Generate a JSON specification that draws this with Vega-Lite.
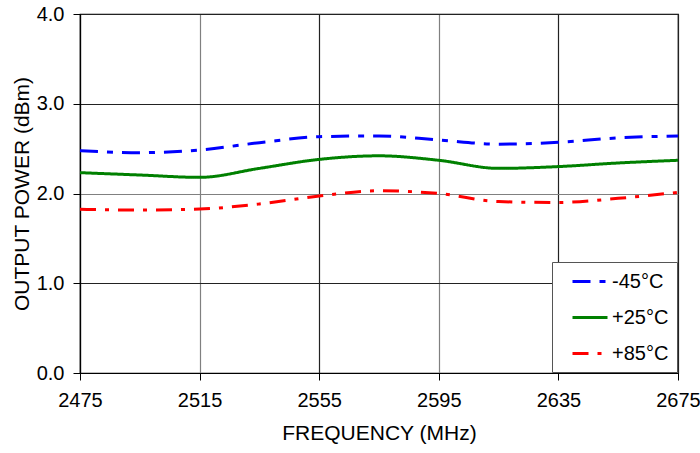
{
  "$schema": "https://vega.github.io/schema/vega-lite/v6.json",
  "width": 598,
  "height": 359,
  "autosize": {"type": "none"},
  "padding": {"left": 80, "top": 14, "right": 22, "bottom": 80},
  "background": "white",
  "config": {
    "font": "Liberation Sans",
    "view": {"stroke": "black", "strokeWidth": 1.2},
    "axis": {
      "labelFont": "Liberation Sans",
      "titleFont": "Liberation Sans",
      "labelFontSize": 20,
      "titleFontSize": 21,
      "titleFontWeight": "normal",
      "labelColor": "black",
      "titleColor": "black",
      "domainColor": "black",
      "tickColor": "black",
      "gridWidth": 1.2,
      "tickSize": 7,
      "domainWidth": 1.2,
      "labelFlush": false,
      "labelBound": false
    }
  },
  "data": {
    "values": [
      {"f": 2475, "p": 2.477, "t": "-45°C"},
      {"f": 2495, "p": 2.455, "t": "-45°C"},
      {"f": 2515, "p": 2.485, "t": "-45°C"},
      {"f": 2535, "p": 2.566, "t": "-45°C"},
      {"f": 2555, "p": 2.633, "t": "-45°C"},
      {"f": 2575, "p": 2.642, "t": "-45°C"},
      {"f": 2595, "p": 2.596, "t": "-45°C"},
      {"f": 2615, "p": 2.55, "t": "-45°C"},
      {"f": 2635, "p": 2.57, "t": "-45°C"},
      {"f": 2655, "p": 2.62, "t": "-45°C"},
      {"f": 2675, "p": 2.64, "t": "-45°C"},
      {"f": 2475, "p": 2.232, "t": "+25°C"},
      {"f": 2495, "p": 2.206, "t": "+25°C"},
      {"f": 2515, "p": 2.18, "t": "+25°C"},
      {"f": 2535, "p": 2.28, "t": "+25°C"},
      {"f": 2555, "p": 2.38, "t": "+25°C"},
      {"f": 2575, "p": 2.42, "t": "+25°C"},
      {"f": 2595, "p": 2.37, "t": "+25°C"},
      {"f": 2615, "p": 2.28, "t": "+25°C"},
      {"f": 2635, "p": 2.30, "t": "+25°C"},
      {"f": 2655, "p": 2.34, "t": "+25°C"},
      {"f": 2675, "p": 2.37, "t": "+25°C"},
      {"f": 2475, "p": 1.824, "t": "+85°C"},
      {"f": 2495, "p": 1.816, "t": "+85°C"},
      {"f": 2515, "p": 1.827, "t": "+85°C"},
      {"f": 2535, "p": 1.883, "t": "+85°C"},
      {"f": 2555, "p": 1.972, "t": "+85°C"},
      {"f": 2575, "p": 2.03, "t": "+85°C"},
      {"f": 2595, "p": 2.0, "t": "+85°C"},
      {"f": 2615, "p": 1.91, "t": "+85°C"},
      {"f": 2635, "p": 1.90, "t": "+85°C"},
      {"f": 2655, "p": 1.946, "t": "+85°C"},
      {"f": 2675, "p": 2.013, "t": "+85°C"}
    ]
  },
  "mark": {"type": "line", "interpolate": "monotone", "strokeWidth": 3},
  "encoding": {
    "x": {
      "field": "f", "type": "quantitative",
      "scale": {"domain": [2475, 2675], "nice": false, "zero": false},
      "axis": {
        "values": [2475, 2515, 2555, 2595, 2635, 2675],
        "title": "FREQUENCY (MHz)",
        "titleFontSize": 21,
        "labelPadding": 10,
        "titlePadding": 12,
        "format": "d",
        "gridColor": {"condition": {"test": "datum.value == 2515 || datum.value == 2595", "value": "#808080"}, "value": "#222222"}
      }
    },
    "y": {
      "field": "p", "type": "quantitative",
      "scale": {"domain": [0, 4], "nice": false},
      "axis": {
        "values": [0, 1, 2, 3, 4],
        "format": ".1f",
        "title": "OUTPUT POWER (dBm)",
        "labelPadding": 9,
        "titlePadding": 4,
        "gridColor": {"condition": {"test": "datum.value == 2", "value": "#808080"}, "value": "#222222"}
      }
    },
    "color": {
      "field": "t", "type": "nominal",
      "scale": {"domain": ["-45°C", "+25°C", "+85°C"], "range": ["#0000ff", "#008000", "#ff0000"]},
      "legend": {
        "title": null,
        "orient": "bottom-right",
        "offset": 1,
        "fillColor": "white",
        "strokeColor": "#555",
        "padding": 8,
        "labelFontSize": 20,
        "labelFont": "Liberation Sans",
        "labelColor": "black",
        "labelExpr": "pad(datum.label, 7)",
        "symbolType": "M-0.5,0H3.0",
        "symbolSize": 400,
        "symbolStrokeWidth": 3,
        "symbolOffset": 6,
        "rowPadding": 14,
        "labelOffset": 23
      }
    },
    "strokeDash": {
      "field": "t", "type": "nominal",
      "scale": {"domain": ["-45°C", "+25°C", "+85°C"], "range": [[18, 9, 6, 9], [1, 0], [16, 9, 4, 9]]},
      "legend": null
    }
  }
}
